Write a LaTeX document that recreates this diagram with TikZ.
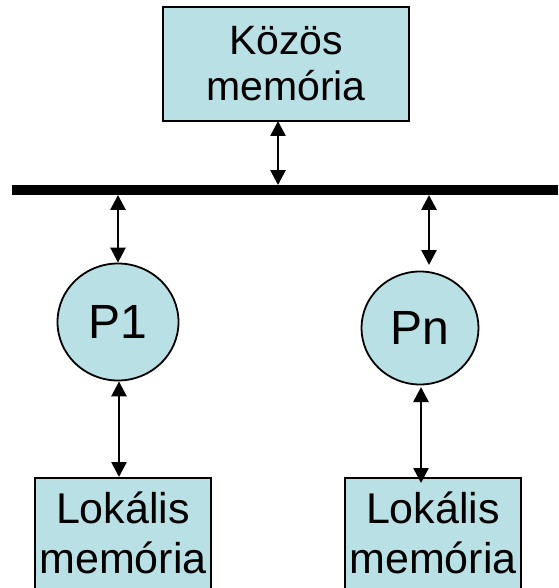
\documentclass[tikz,border=0pt]{standalone}
\usepackage{fontspec}
\setmainfont{Liberation Sans}
\usetikzlibrary{arrows.meta,shapes.geometric}
\definecolor{memfill}{RGB}{185,224,228}
\tikzset{
  membox/.style={draw=black, line width=1.8pt, fill=memfill, inner sep=0pt},
  proc/.style={ellipse, draw=black, line width=1.8pt, fill=memfill, inner sep=0pt},
  label/.style={align=center, inner sep=0pt},
  link/.style={line width=2.6pt, {Triangle[length=15pt,width=15pt]}-{Triangle[length=15pt,width=15pt]}}
}
\begin{document}
\begin{tikzpicture}[x=1pt, y=-1pt]
  \useasboundingbox (0,0) rectangle (558,588);
  \clip (0,0) rectangle (558,588);
  % shared memory and bus
  \node[membox, minimum width=246pt, minimum height=114pt,
        font=\fontsize{41}{46}\selectfont, align=center] (kozos) at (286,64)
        {Közös\\memória};
  \node[fill=black, inner sep=0pt, minimum width=546pt, minimum height=9.5pt] (bus) at (285,190) {};
  % processors
  \node[proc, minimum width=121pt, minimum height=117pt,
        font=\fontsize{48}{48}\selectfont] (p1) at (118,322) {P1};
  \node[proc, minimum width=117pt, minimum height=113pt,
        font=\fontsize{48}{48}\selectfont] (pn) at (420,328) {Pn};
  % local memories (lower edge runs off the page)
  \node[membox, minimum width=176pt, minimum height=140pt, anchor=north] (lok1) at (123,477) {};
  \node[membox, minimum width=176pt, minimum height=140pt, anchor=north] (lokn) at (433,477) {};
  \node[label, font=\fontsize{43}{50}\selectfont, anchor=base] (lok1t) at (123,573) {Lokális\\memória};
  \node[label, font=\fontsize{43}{50}\selectfont, anchor=base] (lokNt) at (433,573) {Lokális\\memória};
  % connectors
  \coordinate (kozosA) at (278,121);
  \coordinate (pnTop) at (429,265);
  \coordinate (pnBot) at (421,387);
  \draw[link] (kozosA) -- (kozosA |- bus.north);
  \draw[link] (p1.north |- bus.south) -- (p1.north);
  \draw[link] (pnTop |- bus.south) -- (pnTop);
  \draw[link] ([xshift=1pt]p1.south) -- ([xshift=1pt]p1.south |- lok1.north);
  \draw[link] (pnBot) -- (pnBot |- 0,483);
\end{tikzpicture}
\end{document}
